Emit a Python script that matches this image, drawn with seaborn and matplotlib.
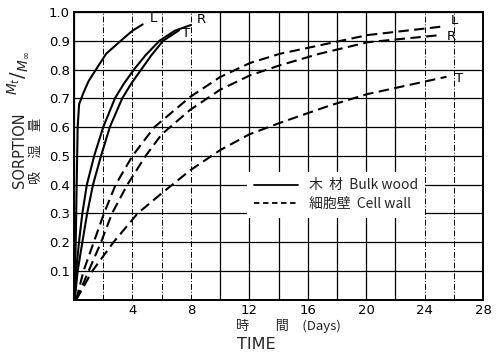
import matplotlib
matplotlib.use("Agg")
import matplotlib.pyplot as plt
from matplotlib.lines import Line2D
import seaborn as sns
import pandas as pd

# Sorption curves (Mt/M∞ versus time in days) for L, R, T directions
bulk_L_days = [0.05, 0.15, 0.25, 0.35, 0.65, 1.0, 1.5, 2.2, 3.2, 4.0, 4.7]
bulk_L_vals = [0.0, 0.3, 0.6, 0.68, 0.72, 0.76, 0.80, 0.855, 0.90, 0.935, 0.957]

bulk_R_days = [0.05, 0.15, 0.34, 0.57, 0.88, 1.38, 2.0, 2.8, 3.4, 4.1, 4.9, 5.85, 6.9, 8.0]
bulk_R_vals = [0.0, 0.1, 0.2, 0.3, 0.4, 0.5, 0.6, 0.7, 0.75, 0.8, 0.85, 0.9, 0.935, 0.955]

bulk_T_days = [0.05, 0.25, 0.57, 0.9, 1.3, 1.85, 2.45, 3.3, 3.9, 4.6, 5.3, 6.1, 7.2]
bulk_T_vals = [0.0, 0.1, 0.2, 0.3, 0.4, 0.5, 0.6, 0.7, 0.75, 0.8, 0.85, 0.9, 0.937]

cell_L_days = [0.15, 0.65, 1.35, 2.05, 2.85, 4.0, 5.5, 7.95, 10.0, 12.05, 14.1, 15.5, 20.1, 25.3]
cell_L_vals = [0.0, 0.1, 0.2, 0.3, 0.4, 0.5, 0.6, 0.705, 0.774, 0.823, 0.855, 0.87, 0.92, 0.95]

cell_R_days = [0.15, 1.0, 1.85, 2.6, 3.65, 4.9, 6.0, 7.95, 10.0, 12.05, 14.1, 16.8, 20.1, 25.1]
cell_R_vals = [0.0, 0.1, 0.2, 0.3, 0.4, 0.5, 0.575, 0.66, 0.73, 0.78, 0.815, 0.855, 0.895, 0.92]

cell_T_days = [0.15, 1.25, 2.7, 4.35, 6.0, 7.95, 10.0, 12.0, 14.1, 17.5, 20.1, 25.5]
cell_T_vals = [0.0, 0.1, 0.2, 0.3, 0.37, 0.45, 0.52, 0.575, 0.615, 0.675, 0.715, 0.775]

x_ticks = list(range(0, 29, 2))
x_labels = ["" if (t == 0 or t % 4) else str(t) for t in x_ticks]
y_ticks = [round(0.1 * i, 1) for i in range(11)]
y_labels = ["" if v == 0 else f"{v:.1f}" for v in y_ticks]

sns.set_theme(style="white")
plt.rcParams["font.family"] = ["DejaVu Sans"]
cjk = ["Noto Sans CJK JP", "DejaVu Sans"]

fig = plt.figure(figsize=(5.0, 3.54), dpi=100)
ax = fig.add_axes([0.148, 0.153, 0.818, 0.813])

dash = (0, (5, 2.6))
curves = [
    (bulk_L_days, bulk_L_vals, "-", "L"),
    (bulk_R_days, bulk_R_vals, "-", "R"),
    (bulk_T_days, bulk_T_vals, "-", "T"),
    (cell_L_days, cell_L_vals, dash, "L"),
    (cell_R_days, cell_R_vals, dash, "R"),
    (cell_T_days, cell_T_vals, dash, "T"),
]
for days, vals, ls, _ in curves:
    df = pd.DataFrame({"days": days, "sorption": vals})
    sns.lineplot(data=df, x="days", y="sorption", ax=ax, color="black",
                 linewidth=1.5, linestyle=ls, sort=False, estimator=None, zorder=3)

# Direction letters placed at the end of each curve
label_offsets = [(0.5, 0.02), (0.4, 0.02), (0.2, -0.01), (0.5, 0.02), (0.4, -0.005), (0.6, -0.005)]
for (days, vals, _, name), (dx, dy) in zip(curves, label_offsets):
    ax.text(days[-1] + dx, vals[-1] + dy, name, fontsize=9.5, ha="left",
            va="center", color="black", zorder=4)

ax.set_xlim(0, 28)
ax.set_ylim(0, 1.0)
ax.set_xticks(x_ticks)
ax.set_xticklabels(x_labels, fontsize=9.5)
ax.set_yticks(y_ticks)
ax.set_yticklabels(y_labels, fontsize=9.5)
ax.tick_params(length=0, pad=3, colors="black")
ax.set_xlabel("")
ax.set_ylabel("")

ax.grid(True, color="black", linewidth=0.9)
for t, gl in zip(x_ticks, ax.xaxis.get_gridlines()):
    if t in (2, 4, 6, 8, 24, 26):
        gl.set_linestyle((0, (6, 2, 1, 2)))
        gl.set_linewidth(0.7)
for sp in ax.spines.values():
    sp.set_color("black")
    sp.set_linewidth(1.4)

handles = [Line2D([], [], color="black", lw=1.3, ls="-"),
           Line2D([], [], color="black", lw=1.3, ls=(0, (3, 2)))]
leg = ax.legend(handles, ["木  材  Bulk wood", "細胞壁  Cell wall"],
                loc="upper left", bbox_to_anchor=(0.405, 0.47), frameon=True,
                framealpha=1, facecolor="white", edgecolor="none",
                handlelength=3.2, handletextpad=0.8, labelspacing=0.35,
                prop={"family": cjk, "size": 10}, borderpad=0.5)
leg.set_zorder(5)

# Axis titles
fig.text(0.04, 0.575, "SORPTION", rotation=90, fontsize=10.5, ha="center", va="center")
fig.text(0.036, 0.795, r"$^{M_t}/_{M_\infty}$", rotation=90, fontsize=14, ha="center", va="center")
fig.text(0.072, 0.575, "吸　湿　量", rotation=90, fontsize=9.5, ha="center", va="center",
         family=cjk)
fig.text(0.472, 0.078, "時　　間　(Days)", fontsize=9.5, ha="left", va="center", family=cjk)
fig.text(0.474, 0.026, "TIME", fontsize=11.5, ha="left", va="center")

fig.savefig("out.png", dpi=100)
